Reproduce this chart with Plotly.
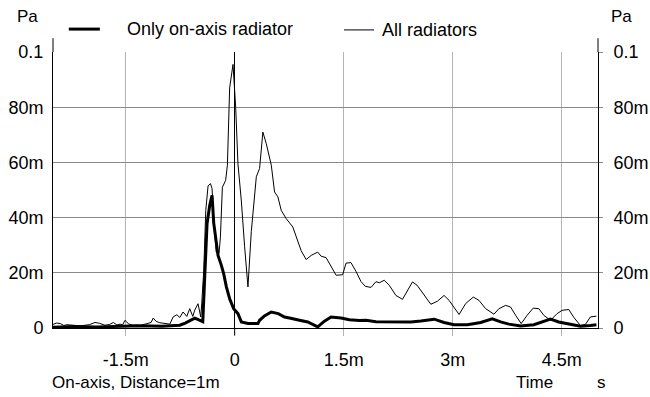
import plotly.graph_objects as go

# time in ms, pressure in mPa
thin_t = [-2.5, -2.45, -2.40, -2.35, -2.31, -2.25, -2.196, -2.13, -2.059, -2.0, -1.922, -1.86,
          -1.784, -1.72, -1.67, -1.62, -1.578, -1.54, -1.51, -1.46, -1.40, -1.35, -1.30, -1.25,
          -1.194, -1.15, -1.121, -1.08, -1.03, -0.961, -0.892, -0.847, -0.796, -0.755, -0.71,
          -0.659, -0.618, -0.576, -0.549, -0.504, -0.467, -0.453, -0.425, -0.398, -0.366, -0.333,
          -0.311, -0.284, -0.254, -0.215, -0.196, -0.169, -0.124, -0.10, -0.069, -0.023, 0.014,
          0.045, 0.092, 0.137, 0.183, 0.229, 0.274, 0.298, 0.343, 0.388, 0.435, 0.48, 0.504,
          0.549, 0.595, 0.641, 0.71, 0.80, 0.869, 0.915, 0.984, 1.053, 1.143, 1.19, 1.258, 1.327,
          1.396, 1.486, 1.533, 1.60, 1.67, 1.739, 1.798, 1.876, 1.945, 1.99, 2.059, 2.127, 2.219,
          2.31, 2.402, 2.447, 2.51, 2.608, 2.70, 2.79, 2.882, 2.951, 3.019, 3.088, 3.18, 3.284,
          3.362, 3.454, 3.568, 3.637, 3.729, 3.797, 3.866, 3.943, 4.025, 4.108, 4.186, 4.254,
          4.346, 4.437, 4.506, 4.598, 4.666, 4.758, 4.827, 4.895, 4.978]
thin_v = [1.3, 1.8, 1.6, 0.9, 1.2, 1.0, 0.9, 0.8, 1.0, 1.2, 2.0, 1.7,
          1.0, 1.3, 2.0, 1.1, 1.4, 1.2, 2.8, 1.5, 1.0, 1.1, 0.9, 1.2,
          1.5, 2.0, 3.6, 2.4, 1.9, 1.7, 1.4, 4.0, 4.8, 3.8, 5.8,
          4.2, 7.0, 4.2, 6.5, 8.8, 4.0, 9.0, 21, 42.6, 51.5, 52.3,
          50.5, 37.8, 27.5, 27, 33, 51, 53.5, 59, 87, 95.5, 80,
          59.5, 46, 29.5, 14.9, 35, 49.9, 54.8, 57.8, 71, 66.8, 60.8, 59,
          49.3, 47.5, 42.6, 39.6, 36.6, 31.8, 28, 24.8, 26.3, 27.5, 26, 25.5, 22.5,
          19.1, 19.3, 23.5, 23.7, 20.5, 16.8, 15.1, 14.7, 16.8, 16.4, 17.3, 15.5, 11.8,
          10.4, 14.6, 16.7, 15.5, 11.8, 8.6, 9.7, 11.8, 10, 7.6, 4.9, 8.9, 11.2,
          10, 7.0, 5.0, 7.0, 8.2, 7.6, 4.6, 1.6, 4.6, 7.2, 7.0, 4.6,
          2.8, 5.2, 6.4, 6.7, 3.9, 0.9, 1.3, 4.0, 4.3]

thick_t = [-2.5, -2.2, -1.9, -1.6, -1.3, -1.0, -0.85, -0.755, -0.68, -0.618, -0.549, -0.50,
           -0.439, -0.412, -0.38, -0.343, -0.311, -0.288, -0.261, -0.229, -0.183, -0.15, -0.114,
           -0.069, -0.014, 0.045, 0.092, 0.183, 0.32, 0.343, 0.41, 0.503, 0.60, 0.686, 0.755,
           0.869, 0.892, 1.006, 1.143, 1.235, 1.327, 1.464, 1.578, 1.716, 1.807, 1.945, 2.082,
           2.241, 2.425, 2.562, 2.745, 2.882, 3.019, 3.202, 3.386, 3.545, 3.66, 3.774, 3.935,
           4.117, 4.231, 4.346, 4.46, 4.598, 4.758, 4.895, 4.978]
thick_v = [0.3, 0.5, 0.4, 0.6, 0.8, 0.6, 0.8, 1.0, 1.8, 2.8, 3.6, 3.0,
           2.3, 18.5, 37.8, 44.5, 48.1, 38, 33, 26.3, 22.7, 19.5, 14.9,
           10.6, 7.0, 5.2, 2.2, 1.6, 1.6, 2.8, 4.4, 5.8, 5.2, 4.0, 3.6,
           2.8, 2.8, 2.2, 0.4, 2.5, 4.0, 3.6, 3.0, 2.7, 2.8, 2.3, 2.3,
           2.2, 2.2, 2.5, 3.2, 2.0, 1.2, 1.2, 2.0, 3.3, 2.2, 1.4, 0.7,
           1.2, 2.2, 3.2, 2.2, 1.4, 0.6, 0.9, 1.2]

x_ticks = [-1.5, 0, 1.5, 3, 4.5]
x_labels = ["-1.5m", "0", "1.5m", "3m", "4.5m"]
y_ticks = [0, 20, 40, 60, 80, 100]
y_labels = ["0", "20m", "40m", "60m", "80m", "0.1"]

FONT = "Liberation Sans, Arial, sans-serif"

fig = go.Figure()
fig.add_trace(go.Scatter(x=thin_t, y=thin_v, mode="lines", yaxis="y",
                         line=dict(color="black", width=1), showlegend=False))
fig.add_trace(go.Scatter(x=thick_t, y=thick_v, mode="lines", yaxis="y2",
                         line=dict(color="black", width=3), showlegend=False))

fig.update_layout(
    width=650, height=397,
    margin=dict(l=53, r=52, t=52, b=69),
    paper_bgcolor="white", plot_bgcolor="white",
    font=dict(family=FONT, size=18, color="black"),
    xaxis=dict(range=[-2.5, 5], tickvals=x_ticks, ticktext=x_labels, automargin=False,
               showgrid=True, gridcolor="#b4b4b4", gridwidth=1,
               zeroline=True, zerolinecolor="black", zerolinewidth=1,
               showline=True, linecolor="black", linewidth=1,
               ticks="outside", ticklen=7, tickcolor="#b4b4b4",
               ticklabelstandoff=8, tickfont=dict(size=18)),
    yaxis=dict(range=[0, 100], tickvals=y_ticks, ticktext=y_labels, automargin=False,
               showgrid=True, gridcolor="#8a8a8a", gridwidth=1, zeroline=False,
               showline=True, linecolor="black", linewidth=1,
               ticks="", ticklabelstandoff=5, tickfont=dict(size=18)),
    yaxis2=dict(range=[0, 100], tickvals=y_ticks, ticktext=y_labels, automargin=False,
                overlaying="y", side="right", showgrid=False, zeroline=False,
                showline=True, linecolor="black", linewidth=1,
                ticks="outside", ticklen=4, tickcolor="#8a8a8a",
                ticklabelstandoff=7, tickfont=dict(size=18)),
)

shapes = [
    # axis lines extending above 0.1
    dict(type="line", xref="paper", yref="paper", x0=0, x1=0, y0=1, y1=1.05,
         line=dict(color="black", width=1)),
    dict(type="line", xref="paper", yref="paper", x0=1, x1=1, y0=1, y1=1.05,
         line=dict(color="black", width=1)),
    # black tick under zero
    dict(type="line", xref="x", yref="paper", x0=0, x1=0, y0=-0.027, y1=0,
         line=dict(color="black", width=1)),
    # legend samples
    dict(type="line", xref="paper", yref="paper", x0=0.029, x1=0.086, y0=1.083, y1=1.083,
         line=dict(color="black", width=3)),
    dict(type="line", xref="paper", yref="paper", x0=0.534, x1=0.589, y0=1.08, y1=1.08,
         line=dict(color="black", width=1)),
]
fig.update_layout(shapes=shapes)

ann = [
    dict(text="Only on-axis radiator", x=0.132, y=1.085, xanchor="left", yanchor="middle", size=18),
    dict(text="All radiators", x=0.6, y=1.08, xanchor="left", yanchor="middle", size=18),
    dict(text="Pa", x=-0.046, y=1.127, xanchor="center", yanchor="middle", size=17),
    dict(text="Pa", x=1.044, y=1.127, xanchor="center", yanchor="middle", size=17),
    dict(text="On-axis, Distance=1m", x=-0.006, y=-0.198, xanchor="left", yanchor="middle", size=17),
    dict(text="Time", x=0.846, y=-0.198, xanchor="left", yanchor="middle", size=17),
    dict(text="s", x=1.007, y=-0.198, xanchor="center", yanchor="middle", size=17),
]
fig.update_layout(annotations=[
    dict(text=a["text"], x=a["x"], y=a["y"], xref="paper", yref="paper",
         xanchor=a["xanchor"], yanchor=a["yanchor"], showarrow=False,
         font=dict(family=FONT, size=a["size"], color="black"))
    for a in ann
])

fig.write_html("out.html")
